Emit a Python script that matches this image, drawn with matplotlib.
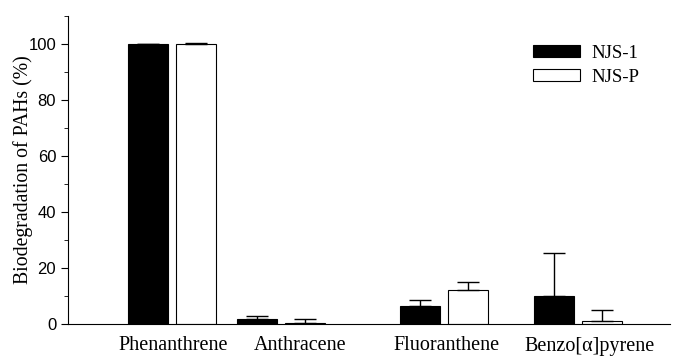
import matplotlib
matplotlib.use("Agg")
import matplotlib.pyplot as plt
from matplotlib.ticker import MultipleLocator

categories = ["Phenanthrene", "Anthracene", "Fluoranthene", "Benzo[\u03b1]pyrene"]
series_names = ["NJS-1", "NJS-P"]
njs1 = [100.0, 1.7, 6.3, 10.0]
njs1_err = [0.0, 1.0, 2.1, 15.2]
njsp = [100.0, 0.4, 12.0, 1.0]
njsp_err = [0.2, 1.5, 3.1, 4.0]

# layout (pixel-like axis units)
group_centers = [104, 213, 376, 510]
label_pos = [105, 232, 378, 522]
offset = 24
width = 40

fig = plt.figure(figsize=(6.73, 3.56), dpi=100)
ax = fig.add_axes([68/673, 32/356, 602/673, 308/356])

serif = ["Liberation Serif", "DejaVu Serif"]

xb = [c - offset for c in group_centers]
xw = [c + offset for c in group_centers]
ekw = dict(ecolor="black", elinewidth=1, capsize=8, capthick=1)
ax.bar(xb, njs1, width=width, color="black", edgecolor="black", linewidth=0.8,
       yerr=[[0]*4, njs1_err], error_kw=ekw, label=series_names[0])
ax.bar(xw, njsp, width=width, color="white", edgecolor="black", linewidth=0.8,
       yerr=[[0]*4, njsp_err], error_kw=ekw, label=series_names[1])

ax.set_xlim(0, 602)
ax.set_ylim(0, 110)
ax.spines["top"].set_visible(False)
ax.spines["right"].set_visible(False)
ax.set_xticks(label_pos)
ax.set_xticklabels(categories, fontfamily=serif, fontsize=14.5)
ax.tick_params(axis="x", length=0, pad=9)
ax.yaxis.set_major_locator(MultipleLocator(20))
ax.yaxis.set_minor_locator(MultipleLocator(10))
ax.tick_params(axis="y", which="major", length=5, direction="out", labelsize=12)
ax.tick_params(axis="y", which="minor", length=3, direction="out")
for t in ax.get_yticklabels():
    t.set_fontfamily(["Liberation Sans", "DejaVu Sans"])
ax.set_ylabel("Biodegradation of PAHs (%)", fontfamily=serif, fontsize=14.2, labelpad=-3)

leg = ax.legend(loc="upper left", bbox_to_anchor=((533-68-13)/602, 0.95), frameon=False,
                prop=dict(family=serif, size=13.5), handlelength=2.5, handleheight=0.6,
                labelspacing=0.4, handletextpad=0.6, borderpad=0.2)

fig.savefig("out.png", dpi=100)
